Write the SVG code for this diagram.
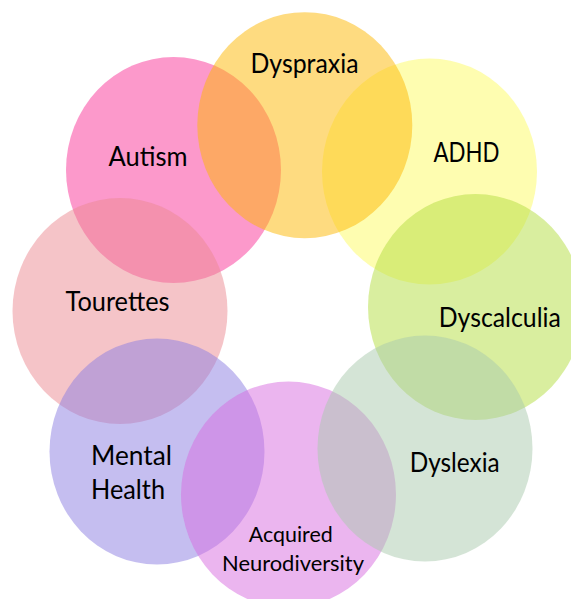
<svg xmlns="http://www.w3.org/2000/svg" width="571" height="599" viewBox="0 0 571 599">
<style>
.c{fill-opacity:0.5;stroke:none}
.t{font-family:Lato,"Open Sans","Liberation Sans",sans-serif;font-size:27px;fill:#000}
.s{font-size:22px}
</style>
<rect width="571" height="599" fill="#fff"/>
<g id="autism"><ellipse class="c" cx="173.5" cy="170" rx="107.5" ry="113" fill="#F93397"/></g>
<g id="tourettes"><ellipse class="c" cx="120" cy="311" rx="107.5" ry="113" fill="#EB8991"/></g>
<g id="mental-health"><ellipse class="c" cx="157" cy="451.5" rx="107.5" ry="113" fill="#8B7DE1"/></g>
<g id="acquired"><ellipse class="c" cx="288.5" cy="494.5" rx="107.5" ry="113" fill="#D76BDF"/></g>
<g id="adhd"><ellipse class="c" cx="429.5" cy="171.5" rx="107.5" ry="113" fill="#FDFB61"/></g>
<g id="dyscalculia"><ellipse class="c" cx="475.5" cy="307" rx="107.5" ry="113" fill="#B3DD3F"/></g>
<g id="dyslexia"><ellipse class="c" cx="425" cy="448.5" rx="107.5" ry="113" fill="#A9C9AD"/></g>
<g id="dyspraxia"><ellipse class="c" cx="304.8" cy="125.2" rx="107.5" ry="113" fill="#FDB701"/></g>
<g id="labels">
<text class="t" x="250.5" y="72.7" textLength="108" lengthAdjust="spacingAndGlyphs">Dyspraxia</text>
<text class="t" x="108.5" y="165.7" textLength="79" lengthAdjust="spacingAndGlyphs">Autism</text>
<text class="t" x="433.4" y="161.7" textLength="66" lengthAdjust="spacingAndGlyphs">ADHD</text>
<text class="t" x="65.5" y="310.7" textLength="104" lengthAdjust="spacingAndGlyphs">Tourettes</text>
<text class="t" x="438.8" y="327.3" textLength="122" lengthAdjust="spacingAndGlyphs">Dyscalculia</text>
<text class="t" x="91" y="464.7" textLength="81" lengthAdjust="spacingAndGlyphs">Mental</text>
<text class="t" x="91" y="499" textLength="74" lengthAdjust="spacingAndGlyphs">Health</text>
<text class="t" x="409.7" y="472.3" textLength="90" lengthAdjust="spacingAndGlyphs">Dyslexia</text>
<text class="t s" x="248.7" y="541.7" textLength="84" lengthAdjust="spacingAndGlyphs">Acquired</text>
<text class="t s" x="222" y="571.3" textLength="142" lengthAdjust="spacingAndGlyphs">Neurodiversity</text>
</g>
</svg>
